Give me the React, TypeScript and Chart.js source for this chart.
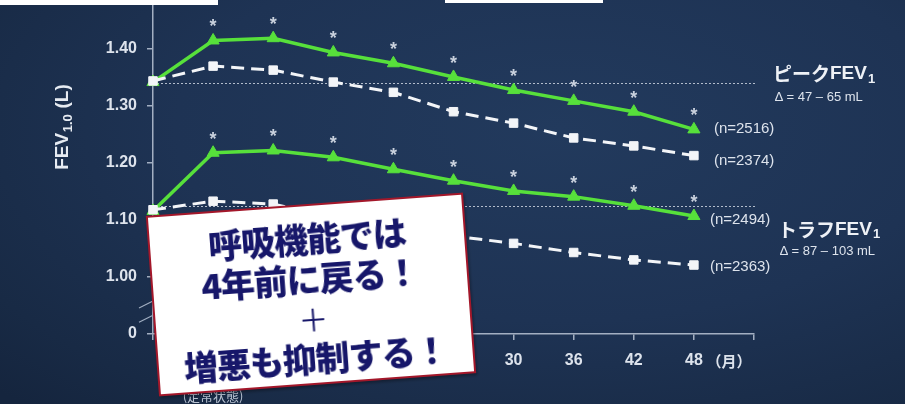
import React, { useEffect, useRef } from "react";
import { Chart, registerables } from "chart.js";
Chart.register(...registerables);

// ---- data ----
const categories: (string | string[])[] = ["", ["1", "", "(定常状態)"], "6", "12", "18", "24", "30", "36", "42", "48", ""];
const peakTiotropium = [1.342, 1.415, 1.419, 1.394, 1.375, 1.351, 1.328, 1.309, 1.290, 1.259];
const peakPlacebo = [1.344, 1.370, 1.363, 1.342, 1.324, 1.290, 1.270, 1.244, 1.230, 1.213];
const troughTiotropium = [1.116, 1.218, 1.222, 1.210, 1.189, 1.169, 1.151, 1.141, 1.125, 1.107];
const troughPlacebo = [1.118, 1.133, 1.128, 1.105, 1.088, 1.072, 1.059, 1.043, 1.030, 1.021];
const baselineLevels = [1.340, 1.125];
const yTickValues = [0.9, 1.0, 1.1, 1.2, 1.3, 1.4];
const nLabels = ["(n=2374)", "(n=2516)", "(n=2363)", "(n=2494)"];
const groupTitles = ["ピーク", "トラフ"];
const groupDeltas = ["∆ = 47 – 65 mL", "∆ = 87 – 103 mL"];
const boxLines = ["呼吸機能では", "4年前に戻る！", "＋", "増悪も抑制する！"];

const GREEN = "#57e03b";
const WHITE = "#f3f5f8";
const AXIS = "#a3afc2";
const TEXT = "#dde3ec";
const SANS = '"Liberation Sans", Arial, sans-serif';
const CJK = '"Noto Sans CJK JP", "Noto Sans", sans-serif';

const decorPlugin = {
  id: "decor",
  beforeDatasetsDraw(chart: any) {
    const { ctx, chartArea, scales } = chart;
    const y = scales.y;
    ctx.save();
    ctx.strokeStyle = "#b3bdcc";
    ctx.lineWidth = 1;
    ctx.setLineDash([2, 2]);
    for (const v of baselineLevels) {
      const py = Math.round(y.getPixelForValue(v)) + 0.5;
      ctx.beginPath();
      ctx.moveTo(chartArea.left, py);
      ctx.lineTo(chartArea.right + 3, py);
      ctx.stroke();
    }
    ctx.restore();
  },
  afterDatasetsDraw(chart: any) {
    const { ctx, chartArea, scales } = chart;
    const x = scales.x;
    const y = scales.y;
    ctx.save();
    // asterisks above tiotropium points
    ctx.fillStyle = "#c9d1dd";
    ctx.font = `bold 18px ${SANS}`;
    ctx.textAlign = "center";
    ctx.textBaseline = "middle";
    [1, 3].forEach((di) => {
      const meta = chart.getDatasetMeta(di);
      meta.data.forEach((pt: any, i: number) => {
        if (i === 0) return;
        ctx.fillText("*", pt.x, pt.y - 13);
      });
    });
    // n labels
    ctx.fillStyle = TEXT;
    ctx.font = `15px ${SANS}`;
    ctx.textAlign = "left";
    const offs = [
      [20, 5],
      [20, -1],
      [16, 2],
      [16, 4],
    ];
    for (let di = 0; di < 4; di++) {
      const meta = chart.getDatasetMeta(di);
      const last = meta.data[meta.data.length - 1];
      ctx.fillText(nLabels[di], last.x + offs[di][0], last.y + offs[di][1]);
    }
    // group titles
    const gx = [chartArea.right + 19, chartArea.right + 24];
    const gy = [y.getPixelForValue(baselineLevels[0]) - 9, y.getPixelForValue(baselineLevels[1]) + 24];
    for (let g = 0; g < 2; g++) {
      ctx.fillStyle = "#eef1f6";
      ctx.font = `bold 19px ${CJK}`;
      ctx.textBaseline = "middle";
      let cx = gx[g];
      ctx.fillText(groupTitles[g], cx, gy[g]);
      cx += ctx.measureText(groupTitles[g]).width;
      ctx.font = `bold 19px ${SANS}`;
      ctx.fillText("FEV", cx, gy[g]);
      cx += ctx.measureText("FEV").width;
      ctx.font = `bold 13px ${SANS}`;
      ctx.fillText("1", cx + 1, gy[g] + 5);
      ctx.font = `13px ${SANS}`;
      ctx.fillStyle = TEXT;
      ctx.fillText(groupDeltas[g], gx[g] + 2, gy[g] + (g === 0 ? 23 : 22));
    }
    // month unit
    ctx.font = `bold 15px ${CJK}`;
    ctx.fillStyle = TEXT;
    ctx.textAlign = "center";
    ctx.textBaseline = "middle";
    ctx.fillText("（月）", x.getPixelForValue(9) + 35, chartArea.bottom + 27);
    // axis break marks
    ctx.strokeStyle = AXIS;
    ctx.lineWidth = 1.2;
    ctx.setLineDash([]);
    for (const v of [0.958, 0.933]) {
      const py = y.getPixelForValue(v);
      ctx.beginPath();
      ctx.moveTo(chartArea.left - 14, py + 7);
      ctx.lineTo(chartArea.left + 14, py - 7);
      ctx.stroke();
    }
    // y title
    ctx.save();
    ctx.translate(63, 127);
    ctx.rotate(-Math.PI / 2);
    ctx.fillStyle = "#e6ebf2";
    ctx.textBaseline = "middle";
    ctx.textAlign = "left";
    ctx.font = `bold 19px ${SANS}`;
    const w1 = ctx.measureText("FEV").width;
    ctx.font = `bold 13px ${SANS}`;
    const w2 = ctx.measureText("1.0").width;
    ctx.font = `bold 19px ${SANS}`;
    const w3 = ctx.measureText(" (L)").width;
    let tx = -(w1 + w2 + w3 + 1) / 2;
    ctx.fillText("FEV", tx, 0);
    tx += w1;
    ctx.font = `bold 13px ${SANS}`;
    ctx.fillText("1.0", tx + 0.5, 5);
    tx += w2 + 1;
    ctx.font = `bold 19px ${SANS}`;
    ctx.fillText(" (L)", tx, 0);
    ctx.restore();
    ctx.restore();
  },
};

export default function App() {
  const ref = useRef<HTMLCanvasElement>(null);
  useEffect(() => {
    if (!ref.current) return;
    const greenStyle = {
      borderColor: GREEN,
      backgroundColor: GREEN,
      pointBackgroundColor: GREEN,
      pointBorderColor: GREEN,
      borderWidth: 3.5,
      pointStyle: "triangle",
      pointRadius: 7,
      pointBorderWidth: 1,
      tension: 0,
    };
    const whiteStyle = {
      borderColor: WHITE,
      backgroundColor: WHITE,
      pointBackgroundColor: WHITE,
      pointBorderColor: WHITE,
      borderWidth: 3,
      borderDash: [13, 7],
      pointStyle: "rect",
      pointRadius: 6,
      pointBorderWidth: 1,
      tension: 0,
    };
    const chart = new Chart(ref.current, {
      type: "line",
      data: {
        labels: categories as any,
        datasets: [
          { label: "peak placebo", data: peakPlacebo, ...whiteStyle },
          { label: "peak tiotropium", data: peakTiotropium, ...greenStyle },
          { label: "trough placebo", data: troughPlacebo, ...whiteStyle },
          { label: "trough tiotropium", data: troughTiotropium, ...greenStyle },
        ] as any,
      },
      options: {
        animation: false,
        responsive: false,
        maintainAspectRatio: false,
        layout: { autoPadding: false, padding: { left: 0, right: 151, top: 0, bottom: 0 } },
        plugins: { legend: { display: false }, tooltip: { enabled: false } },
        scales: {
          x: {
            type: "category",
            offset: false,
            grid: { display: true, drawOnChartArea: false, drawTicks: true, tickLength: 6, color: AXIS, lineWidth: 1.5 },
            border: { display: true, color: AXIS, width: 1.5 },
            ticks: {
              color: (c: any) => (c.index === 1 ? "#b9c3d2" : TEXT),
              font: (c: any) =>
                c.index === 1
                  ? { family: CJK, size: 13, weight: "normal", lineHeight: 1.4 }
                  : { family: SANS, size: 16, weight: "bold", lineHeight: 1.15 },
              maxRotation: 0,
              autoSkip: false,
              padding: 11,
            },
            afterFit: (s: any) => {
              s.height = 70;
              s.paddingLeft = 0;
              s.paddingRight = 0;
            },
          },
          y: {
            type: "linear",
            min: 0.9,
            max: 1.486,
            afterBuildTicks: (s: any) => {
              s.ticks = yTickValues.map((v) => ({ value: v }));
            },
            grid: { display: true, drawOnChartArea: false, drawTicks: true, tickLength: 6, color: AXIS, lineWidth: 1.5 },
            border: { display: true, color: AXIS, width: 1.5 },
            ticks: {
              color: TEXT,
              font: { family: SANS, size: 16, weight: "bold" } as any,
              padding: 10,
              callback: (v: any) => (Math.abs(v - 0.9) < 1e-6 ? "0" : Number(v).toFixed(2)),
            },
            afterFit: (s: any) => {
              s.width = 153;
              s.paddingTop = 0;
              s.paddingBottom = 0;
            },
          },
        },
      } as any,
      plugins: [decorPlugin],
    });
    return () => chart.destroy();
  }, []);

  return (
    <div
      style={{
        position: "fixed",
        left: 0,
        top: 0,
        width: 905,
        height: 404,
        overflow: "hidden",
        background:
          "radial-gradient(ellipse 85% 95% at 62% 32%, #223a5d 0%, #1e3354 50%, #182a45 85%, #15253e 100%)",
      }}
    >
      <canvas ref={ref} width={905} height={404} style={{ position: "absolute", left: 0, top: 0, width: 905, height: 404 }} />
      <div style={{ position: "absolute", left: 0, top: 0, width: 218, height: 5, background: "#ffffff" }} />
      <div style={{ position: "absolute", left: 445, top: 0, width: 158, height: 3, background: "#ffffff" }} />
      <div
        style={{
          position: "absolute",
          left: 311 - 159,
          top: 294 - 90.5,
          width: 318,
          height: 181,
          boxSizing: "border-box",
          border: "2px solid #a3172a",
          background: "#ffffff",
          transform: "rotate(-4.2deg)",
          display: "flex",
          flexDirection: "column",
          alignItems: "center",
          justifyContent: "center",
          paddingTop: 6,
          boxShadow: "1px 2px 3px rgba(0,0,0,0.35)",
        }}
      >
        {boxLines.map((t, i) => (
          <div
            key={i}
            style={{
              fontFamily: CJK,
              fontSize: i === 2 ? 30 : 34,
              fontWeight: i === 2 ? 400 : 900,
              lineHeight: "40px",
              color: "#17176a",
              whiteSpace: "nowrap",
              letterSpacing: -1,
            }}
          >
            {t}
          </div>
        ))}
      </div>
    </div>
  );
}
